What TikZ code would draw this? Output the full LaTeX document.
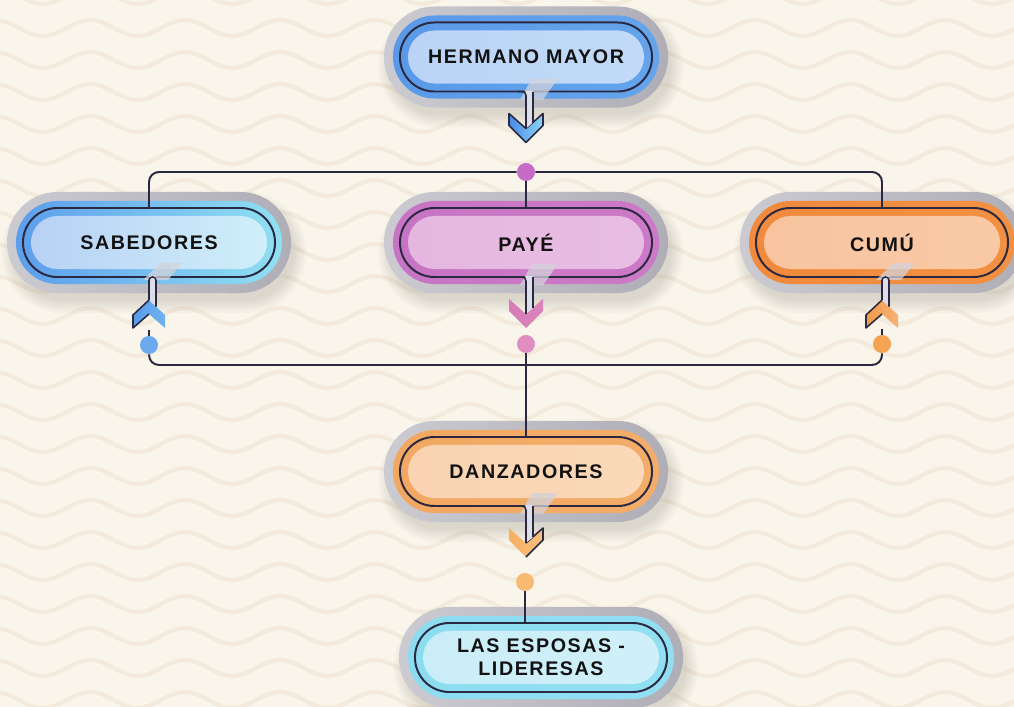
\documentclass[tikz,border=0pt]{standalone}
\usepackage{fontspec}
\newfontfamily\pillfont[LetterSpace=8]{Liberation Sans}
\usetikzlibrary{shapes.misc}

\definecolor{papercol}{HTML}{F9F5EA}
\definecolor{wavecol}{HTML}{F4EADB}
\definecolor{ink}{HTML}{2B2842}
\definecolor{shellL}{HTML}{CCCBD1}
\definecolor{shellR}{HTML}{AFADB6}
\definecolor{slashcol}{HTML}{D3D3DB}
\definecolor{stemcol}{HTML}{DCDEEA}
\definecolor{labelcol}{HTML}{121212}
\definecolor{shadowcol}{HTML}{6E6A60}
% rings and fills
\definecolor{hermRingL}{HTML}{5A99E8} \definecolor{hermRingR}{HTML}{64A4EC}
\definecolor{hermInL}{HTML}{BBD4F6}   \definecolor{hermInR}{HTML}{C2DAF8}
\definecolor{sabRingL}{HTML}{5D9DEB}  \definecolor{sabRingR}{HTML}{90E0F2}
\definecolor{sabInL}{HTML}{B8D1F5}    \definecolor{sabInR}{HTML}{CFEFF9}
\definecolor{payRingL}{HTML}{C874C4}  \definecolor{payRingR}{HTML}{CC7AC8}
\definecolor{payInL}{HTML}{E5B7E0}    \definecolor{payInR}{HTML}{E8BDE3}
\definecolor{cumRingL}{HTML}{F08A3C}  \definecolor{cumRingR}{HTML}{F29042}
\definecolor{cumInL}{HTML}{F8C4A0}    \definecolor{cumInR}{HTML}{F9C9A6}
\definecolor{danRingL}{HTML}{F2A862}  \definecolor{danRingR}{HTML}{F3AD68}
\definecolor{danInL}{HTML}{F9D3B2}    \definecolor{danInR}{HTML}{FAD8B8}
\definecolor{espRingL}{HTML}{8CDCF0}  \definecolor{espRingR}{HTML}{92DFF2}
\definecolor{espInL}{HTML}{CAEDF7}    \definecolor{espInR}{HTML}{D0F0F9}
% chevrons and dots
\definecolor{hermChevL}{HTML}{4A8BE4} \definecolor{hermChevR}{HTML}{8AD3F5}
\definecolor{sabChevL}{HTML}{579BEA}  \definecolor{sabChevR}{HTML}{6FB2F0}
\definecolor{payChevL}{HTML}{D67CB6}  \definecolor{payChevR}{HTML}{DA84BC}
\definecolor{cumChevL}{HTML}{F2994A}  \definecolor{cumChevR}{HTML}{F6B273}
\definecolor{danChevL}{HTML}{F6B060}  \definecolor{danChevR}{HTML}{F8C080}
\definecolor{dotHcol}{HTML}{C66CC7}
\definecolor{dotScol}{HTML}{6CA9EE}
\definecolor{dotPcol}{HTML}{E08DC1}
\definecolor{dotCcol}{HTML}{F5A253}
\definecolor{dotDcol}{HTML}{F8BB74}

\pgfdeclarelayer{paper}
\pgfdeclarelayer{bg}
\pgfsetlayers{paper,bg,main}

\tikzset{
    pill/.style={rounded rectangle, minimum width=6.3cm, minimum height=1.725cm,
        inner sep=0pt, outer sep=0pt, draw=ink, line width=1.4pt, text=labelcol, align=center,
        font={\pillfont\fontsize{14pt}{16.5pt}\selectfont\bfseries}},
    layer/.style={rounded rectangle, inner sep=0pt, outer sep=0pt, draw=none},
    bus/.style={draw=ink, line width=1.4pt},
    chevline/.style={draw=ink, line width=1.1pt, line join=round},
    slash/.style={fill=slashcol, opacity=0.75},
    dot/.style={circle, inner sep=0pt, minimum size=0.45cm},
    wave/.style={draw=wavecol, line width=0.1cm},
}

% pill node: name, centre, ring left/right, fill left/right, text
\newcommand{\pillnode}[7]{%
    \node[pill] (#1) at (#2) {#7};
    \begin{pgfonlayer}{bg}
        \foreach \g in {1,...,6}
            \node[layer, fill=shadowcol, opacity=0.035, minimum width=6.9cm+\g*0.12cm,
                minimum height=2.3cm+\g*0.12cm] (#1shadow\g) at ([shift={(5,10)}]#1.center) {};
        \node[layer, left color=shellL, right color=shellR, minimum width=7.1cm,
            minimum height=2.525cm] (#1shell) at (#1.center) {};
        \node[layer, left color=#3, right color=#4, minimum width=6.65cm,
            minimum height=2.075cm] (#1ring) at (#1.center) {};
        \node[layer, left color=#5, right color=#6, minimum width=5.9cm,
            minimum height=1.325cm] (#1fill) at (#1.center) {};
    \end{pgfonlayer}
}

% stem with chevron pointing down: node, chevron colours, arm lines
\newcommand{\stemdown}[5]{%
    \begin{scope}[shift={(#1.south)}]
        \fill[slash] (-6,8) -- (17,8) -- (32,-13) -- (6,-13) -- cycle;
        \shade[left color=#2, right color=#3] (-17,22) -- (-17,34) -- (0,51) -- (17,34) -- (17,22) -- (0,37) -- cycle;
        \draw[chevline, #4] (0,37) -- (-17,22) -- (-17,34) -- (0,51);
        \draw[chevline, #5] (0,51) -- (17,34) -- (17,22) -- (0,37);
        \fill[stemcol] (0,-1) -- (7,-1) -- (7,31) -- (0,37) -- cycle;
        \draw[chevline, rounded corners=0.1cm] (-8,0) -- (0,0) -- (0,37);
        \draw[chevline] (7,0) -- (7,31);
    \end{scope}
}

% stem with chevron pointing up
\newcommand{\stemup}[5]{%
    \begin{scope}[shift={(#1.south)}]
        \fill[slash] (-6,3) -- (19,3) -- (33,-14) -- (11,-14) -- cycle;
        \shade[left color=#2, right color=#3] (-16,51) -- (-16,38) -- (0,23) -- (16,38) -- (16,51) -- (0,37) -- cycle;
        \draw[chevline, #4] (0,23) -- (-16,38) -- (-16,51) -- (0,37);
        \draw[chevline, #5] (0,37) -- (16,51) -- (16,38) -- (0,23);
        \fill[stemcol] (0,-1) -- (7,-1) -- (7,29.6) -- (0,23) -- cycle;
        \draw[chevline, rounded corners=0.08cm] (0,23) -- (0,0) -- (7,0) -- (7,29.6);
    \end{scope}
}

\begin{document}
\begin{tikzpicture}[x=0.025cm, y=-0.025cm]

    \useasboundingbox (0,0) rectangle (1014,707);

    %% Paper with waves
    \begin{pgfonlayer}{paper}
        \fill[papercol] (0,0) rectangle (1014,707);
        \foreach \yy in {-4,28,...,732}
            \draw[wave] plot[domain=-20:1040, samples=180, smooth] (\x, {\yy - 8*cos((\x-90)/95*360)});
    \end{pgfonlayer}

    %% Nodes
    \pillnode{hermano}{526,57}{hermRingL}{hermRingR}{hermInL}{hermInR}{HERMANO MAYOR}
    \pillnode{sabedores}{149,242.5}{sabRingL}{sabRingR}{sabInL}{sabInR}{SABEDORES}
    \pillnode{paye}{526,242.5}{payRingL}{payRingR}{payInL}{payInR}{PAYÉ}
    \pillnode{cumu}{882,242.5}{cumRingL}{cumRingR}{cumInL}{cumInR}{CUMÚ}
    \pillnode{danzadores}{526,471.5}{danRingL}{danRingR}{danInL}{danInR}{DANZADORES}
    \pillnode{esposas}{541,657.5}{espRingL}{espRingR}{espInL}{espInR}{LAS ESPOSAS -\\LIDERESAS}

    %% Stems and chevrons
    \stemdown{hermano}{hermChevL}{hermChevR}{}{}
    \stemup{sabedores}{sabChevL}{sabChevR}{}{draw=none}
    \stemdown{paye}{payChevL}{payChevR}{draw=none}{draw=none}
    \stemup{cumu}{cumChevL}{cumChevR}{}{draw=none}
    \stemdown{danzadores}{danChevL}{danChevR}{draw=none}{}

    %% Dots
    \node[dot, fill=dotHcol] (dotH) at (526,172) {};
    \node[dot, fill=dotScol] (dotS) at (149,345) {};
    \node[dot, fill=dotPcol] (dotP) at (526,344) {};
    \node[dot, fill=dotCcol] (dotC) at (882,344) {};
    \node[dot, fill=dotDcol] (dotD) at (525,582) {};
    \coordinate (busB) at (526,365);

    %% Connectors
    \draw[bus, rounded corners=0.25cm] (sabedores.north) |- (dotH) -| (cumu.north);
    \draw[bus] (dotH) -- (paye.north);
    \draw[bus, rounded corners=0.25cm] (dotS) |- (busB) -| (dotC);
    \draw[bus] (dotS.north) -- ++(0,-6);
    \draw[bus] (dotC.north) -- ++(0,-6);
    \draw[bus] (dotP) -- (danzadores.north);
    \draw[bus] (dotD) -- (dotD |- esposas.north);

\end{tikzpicture}
\end{document}
